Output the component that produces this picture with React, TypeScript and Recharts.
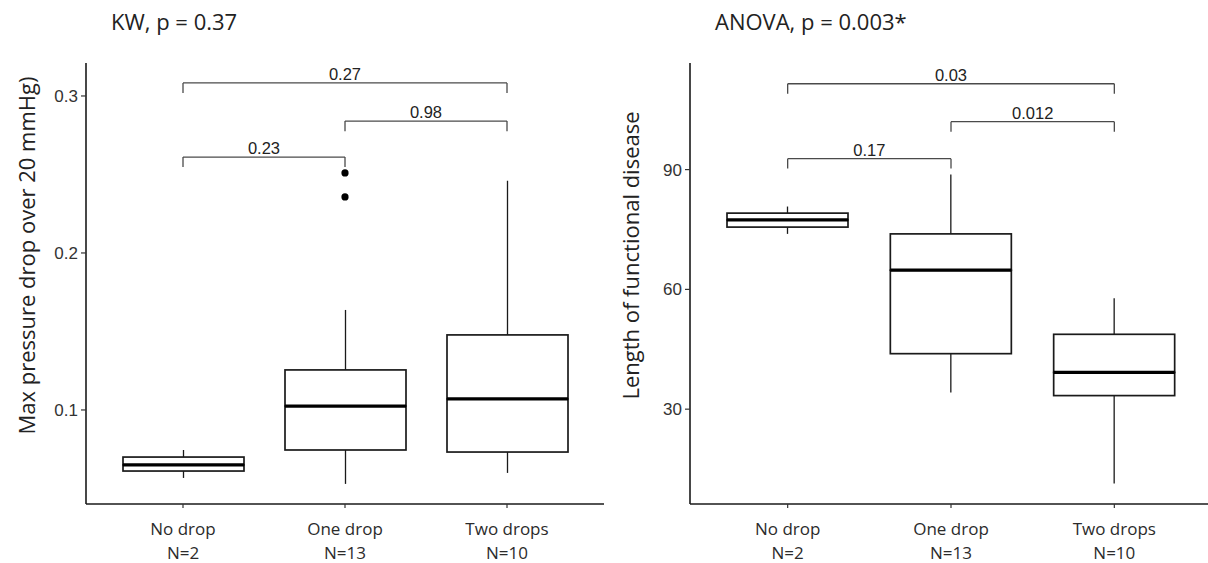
import { ComposedChart, Bar, XAxis, YAxis, ReferenceLine, ReferenceDot } from 'recharts';

const groups = ['No drop', 'One drop', 'Two drops'];
const groupN = ['N=2', 'N=13', 'N=10'];

// left panel: max pressure drop
const pressureLow = [0.0567, 0.0529, 0.0599];
const pressureQ1 = [0.0611, 0.0745, 0.0732];
const pressureMedian = [0.065, 0.1025, 0.107];
const pressureQ3 = [0.070, 0.1255, 0.1478];
const pressureHigh = [0.0745, 0.1637, 0.246];
const pressureOutlierGroup = ['One drop', 'One drop'];
const pressureOutliers = [0.251, 0.2357];
const pressureTicks = [0.1, 0.2, 0.3];
const pressureDomain = [0.0401, 0.321];

// right panel: length of functional disease
const lengthLow = [73.9, 34.2, 11.4];
const lengthQ1 = [75.6, 43.9, 33.4];
const lengthMedian = [77.4, 64.8, 39.2];
const lengthQ3 = [79.1, 73.9, 48.75];
const lengthHigh = [80.75, 88.75, 57.75];
const lengthTicks = [30, 60, 90];
const lengthDomain = [6.25, 116.7];

// pairwise comparison brackets
const bracketFrom = ['No drop', 'One drop', 'No drop'];
const bracketTo = ['Two drops', 'Two drops', 'One drop'];
const pressureBracketY = [0.3083, 0.284, 0.2611];
const pressureBracketP = ['0.27', '0.98', '0.23'];
const lengthBracketY = [111.5, 102, 92.75];
const lengthBracketP = ['0.03', '0.012', '0.17'];

const INK = '#1a1a1a';

const GroupTick = (props: any) => {
  const { x, y, payload } = props;
  const i = groups.indexOf(payload.value);
  return (
    <text x={x} y={y} textAnchor="middle" fontFamily="Open Sans" fontSize={17} fill="#2b2b2b">
      <tspan x={x} dy={25}>{payload.value}</tspan>
      <tspan x={x} dy={24}>{groupN[i]}</tspan>
    </text>
  );
};

const YTitle = (props: any) => {
  const { viewBox, text } = props;
  const cx = viewBox.x + 26;
  const cy = viewBox.y + viewBox.height / 2 - 28;
  return (
    <text
      transform={`translate(${cx}, ${cy}) rotate(-90)`}
      textAnchor="middle"
      dominantBaseline="central"
      fontFamily="Open Sans"
      fontSize={22}
      fill="#222"
    >
      {text}
    </text>
  );
};

const whisker = (p: any) => (
  <line x1={p.x + p.width / 2} x2={p.x + p.width / 2} y1={p.y} y2={p.y + p.height} stroke={INK} strokeWidth={1.3} />
);
const boxLowShape = (p: any) => (
  <rect x={p.x} y={p.y} width={p.width} height={p.height} fill="#fff" stroke={INK} strokeWidth={1.7} />
);
const boxHighShape = (p: any) => (
  <g>
    <rect x={p.x} y={p.y} width={p.width} height={p.height} fill="#fff" stroke={INK} strokeWidth={1.7} />
    <line x1={p.x} x2={p.x + p.width} y1={p.y + p.height} y2={p.y + p.height} stroke="#000" strokeWidth={3.2} />
  </g>
);

type PanelProps = {
  title: string;
  yLabel: string;
  low: number[];
  q1: number[];
  med: number[];
  q3: number[];
  high: number[];
  ticks: number[];
  domain: number[];
  bracketY: number[];
  bracketP: string[];
  drop: number;
  outlierGroup?: string[];
  outliers?: number[];
  width: number;
};

const Panel = (props: PanelProps) => {
  const { title, yLabel, low, q1, med, q3, high, ticks, domain, bracketY, bracketP, drop, width } = props;
  const data = groups.map((g, i) => ({
    group: g,
    base: low[i],
    wLow: q1[i] - low[i],
    boxLow: med[i] - q1[i],
    boxHigh: q3[i] - med[i],
    wHigh: high[i] - q3[i],
  }));
  const outliers = props.outliers || [];
  const outlierGroup = props.outlierGroup || [];

  return (
    <div style={{ position: 'relative', width, height: 563, flex: 'none' }}>
      <div
        style={{
          position: 'absolute',
          left: 111,
          top: 10,
          fontFamily: 'Open Sans',
          fontSize: 22,
          lineHeight: 1,
          color: '#222',
          whiteSpace: 'nowrap',
        }}
      >
        {title}
      </div>
      <ComposedChart width={width} height={563} data={data} margin={{ top: 63, right: 0, bottom: 0, left: 0 }}>
        <XAxis
          dataKey="group"
          height={59}
          padding={{ left: 16, right: 16 }}
          interval={0}
          tickSize={4}
          tickMargin={2}
          tick={<GroupTick />}
          axisLine={{ stroke: INK, strokeWidth: 1.6 }}
          tickLine={{ stroke: '#333', strokeWidth: 1.2 }}
        />
        <YAxis
          type="number"
          width={86}
          domain={domain}
          allowDataOverflow
          ticks={ticks}
          tickSize={5}
          tickMargin={3}
          tick={{ fontFamily: 'Liberation Sans', fontSize: 17, fill: '#333' }}
          axisLine={{ stroke: INK, strokeWidth: 1.6 }}
          tickLine={{ stroke: '#333', strokeWidth: 1.2 }}
          label={<YTitle text={yLabel} />}
        />
        <Bar stackId="box" dataKey="base" barSize={121} shape={() => <g />} isAnimationActive={false} />
        <Bar stackId="box" dataKey="wLow" barSize={121} shape={whisker} isAnimationActive={false} />
        <Bar stackId="box" dataKey="boxLow" barSize={121} shape={boxLowShape} isAnimationActive={false} />
        <Bar stackId="box" dataKey="boxHigh" barSize={121} shape={boxHighShape} isAnimationActive={false} />
        <Bar stackId="box" dataKey="wHigh" barSize={121} shape={whisker} isAnimationActive={false} />
        {outliers.map((v, i) => (
          <ReferenceDot key={`o${i}`} x={outlierGroup[i]} y={v} r={3.6} fill="#000" stroke="none" />
        ))}
        {bracketY.map((y, i) => (
          <ReferenceLine
            key={`bh${i}`}
            segment={[{ x: bracketFrom[i], y }, { x: bracketTo[i], y }]}
            stroke="#4a4a4a"
            strokeWidth={1.3}
            ifOverflow="visible"
            label={{ value: bracketP[i], position: 'top', offset: 3, fontSize: 16.5, fontFamily: 'Liberation Sans', fill: '#222' }}
          />
        ))}
        {bracketY.map((y, i) => (
          <ReferenceLine
            key={`bl${i}`}
            segment={[{ x: bracketFrom[i], y }, { x: bracketFrom[i], y: y - drop }]}
            stroke="#4a4a4a"
            strokeWidth={1.3}
            ifOverflow="visible"
          />
        ))}
        {bracketY.map((y, i) => (
          <ReferenceLine
            key={`br${i}`}
            segment={[{ x: bracketTo[i], y }, { x: bracketTo[i], y: y - drop }]}
            stroke="#4a4a4a"
            strokeWidth={1.3}
            ifOverflow="visible"
          />
        ))}
      </ComposedChart>
    </div>
  );
};

export default function App() {
  return (
    <div
      style={{
        position: 'absolute',
        left: 0,
        top: 0,
        width: 1208,
        height: 563,
        overflow: 'hidden',
        display: 'flex',
        background: '#fff',
      }}
    >
      <Panel
        title="KW, p = 0.37"
        yLabel="Max pressure drop over 20 mmHg)"
        low={pressureLow}
        q1={pressureQ1}
        med={pressureMedian}
        q3={pressureQ3}
        high={pressureHigh}
        ticks={pressureTicks}
        domain={pressureDomain}
        bracketY={pressureBracketY}
        bracketP={pressureBracketP}
        drop={0.0064}
        outlierGroup={pressureOutlierGroup}
        outliers={pressureOutliers}
        width={604}
      />
      <Panel
        title="ANOVA, p = 0.003*"
        yLabel="Length of functional disease"
        low={lengthLow}
        q1={lengthQ1}
        med={lengthMedian}
        q3={lengthQ3}
        high={lengthHigh}
        ticks={lengthTicks}
        domain={lengthDomain}
        bracketY={lengthBracketY}
        bracketP={lengthBracketP}
        drop={2.5}
        width={608}
      />
    </div>
  );
}
